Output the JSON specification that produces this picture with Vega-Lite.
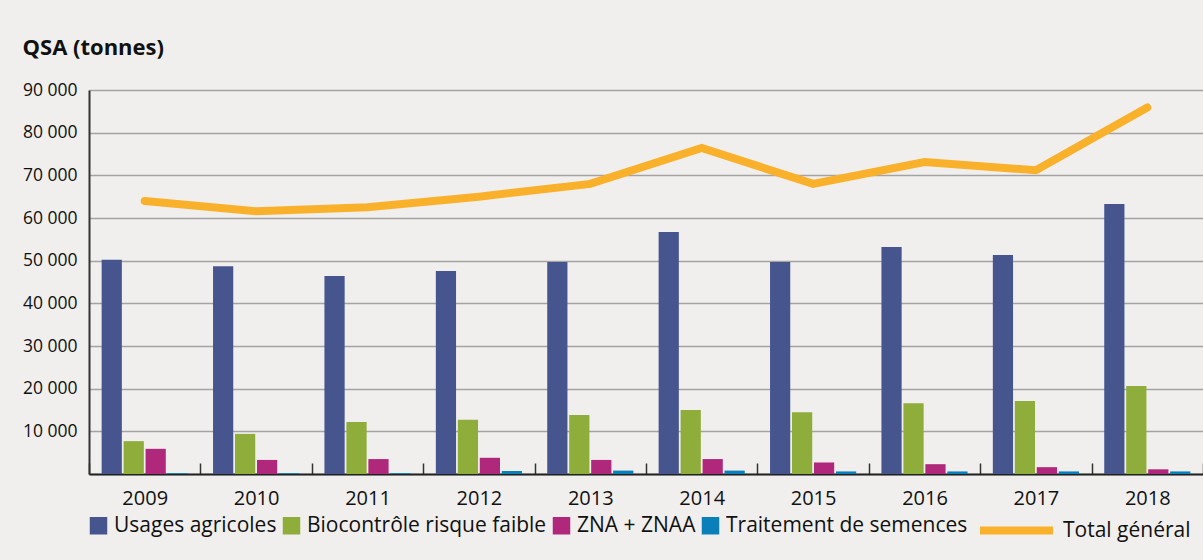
{
  "$schema": "https://vega.github.io/schema/vega-lite/v6.json",
  "width": 1114,
  "height": 384,
  "autosize": {"type": "none"},
  "padding": {"left": 89, "top": 90, "right": 0, "bottom": 86},
  "background": "#f0efed",
  "datasets": {
    "bars": [
      {"year": "2009", "series": "Usages agricoles", "value": 50200},
      {"year": "2009", "series": "Biocontrôle risque faible", "value": 7700},
      {"year": "2009", "series": "ZNA + ZNAA", "value": 5900},
      {"year": "2009", "series": "Traitement de semences", "value": 200},
      {"year": "2010", "series": "Usages agricoles", "value": 48700},
      {"year": "2010", "series": "Biocontrôle risque faible", "value": 9400},
      {"year": "2010", "series": "ZNA + ZNAA", "value": 3300},
      {"year": "2010", "series": "Traitement de semences", "value": 200},
      {"year": "2011", "series": "Usages agricoles", "value": 46400},
      {"year": "2011", "series": "Biocontrôle risque faible", "value": 12200},
      {"year": "2011", "series": "ZNA + ZNAA", "value": 3500},
      {"year": "2011", "series": "Traitement de semences", "value": 200},
      {"year": "2012", "series": "Usages agricoles", "value": 47600},
      {"year": "2012", "series": "Biocontrôle risque faible", "value": 12700},
      {"year": "2012", "series": "ZNA + ZNAA", "value": 3800},
      {"year": "2012", "series": "Traitement de semences", "value": 700},
      {"year": "2013", "series": "Usages agricoles", "value": 49700},
      {"year": "2013", "series": "Biocontrôle risque faible", "value": 13800},
      {"year": "2013", "series": "ZNA + ZNAA", "value": 3300},
      {"year": "2013", "series": "Traitement de semences", "value": 800},
      {"year": "2014", "series": "Usages agricoles", "value": 56700},
      {"year": "2014", "series": "Biocontrôle risque faible", "value": 15000},
      {"year": "2014", "series": "ZNA + ZNAA", "value": 3500},
      {"year": "2014", "series": "Traitement de semences", "value": 800},
      {"year": "2015", "series": "Usages agricoles", "value": 49700},
      {"year": "2015", "series": "Biocontrôle risque faible", "value": 14500},
      {"year": "2015", "series": "ZNA + ZNAA", "value": 2700},
      {"year": "2015", "series": "Traitement de semences", "value": 600},
      {"year": "2016", "series": "Usages agricoles", "value": 53200},
      {"year": "2016", "series": "Biocontrôle risque faible", "value": 16600},
      {"year": "2016", "series": "ZNA + ZNAA", "value": 2300},
      {"year": "2016", "series": "Traitement de semences", "value": 600},
      {"year": "2017", "series": "Usages agricoles", "value": 51300},
      {"year": "2017", "series": "Biocontrôle risque faible", "value": 17100},
      {"year": "2017", "series": "ZNA + ZNAA", "value": 1600},
      {"year": "2017", "series": "Traitement de semences", "value": 600},
      {"year": "2018", "series": "Usages agricoles", "value": 63300},
      {"year": "2018", "series": "Biocontrôle risque faible", "value": 20600},
      {"year": "2018", "series": "ZNA + ZNAA", "value": 1100},
      {"year": "2018", "series": "Traitement de semences", "value": 600}
    ],
    "total": [
      {"year": "2009", "total": 64000},
      {"year": "2010", "total": 61600},
      {"year": "2011", "total": 62500},
      {"year": "2012", "total": 65000},
      {"year": "2013", "total": 68000},
      {"year": "2014", "total": 76400},
      {"year": "2015", "total": 68000},
      {"year": "2016", "total": 73100},
      {"year": "2017", "total": 71200},
      {"year": "2018", "total": 85900}
    ]
  },
  "layer": [
    {
      "data": {"name": "bars"},
      "mark": {"type": "bar"},
      "encoding": {
        "x": {
          "field": "year",
          "type": "nominal",
          "scale": {"paddingInner": 0, "paddingOuter": 0},
          "axis": {
            "title": null,
            "labelAngle": 0,
            "labelFontSize": 20,
            "labelColor": "#111",
            "labelPadding": 25,
            "tickBand": "extent",
            "tickSize": -11,
            "tickColor": "#333",
            "tickWidth": 1.5,
            "domainColor": "#222",
            "domainWidth": 2,
            "grid": false
          }
        },
        "xOffset": {
          "field": "series",
          "type": "nominal",
          "sort": ["Usages agricoles", "Biocontrôle risque faible", "ZNA + ZNAA", "Traitement de semences"],
          "scale": {"paddingInner": 0.08, "paddingOuter": 0.575}
        },
        "y": {
          "field": "value",
          "type": "quantitative",
          "scale": {"domain": [0, 90000], "nice": false},
          "axis": {
            "values": [0, 10000, 20000, 30000, 40000, 50000, 60000, 70000, 80000, 90000],
            "format": ",d",
            "labelExpr": "datum.value === 0 ? '' : datum.label",
            "labelFontSize": 17.5,
            "labelColor": "#111",
            "labelPadding": 12,
            "ticks": false,
            "grid": true,
            "gridColor": "#a3a3a3",
            "gridWidth": 1.5,
            "domainColor": "#333",
            "domainWidth": 2,
            "title": "QSA (tonnes)",
            "titleAngle": 0,
            "titleAlign": "left",
            "titleBaseline": "middle",
            "titleX": -67,
            "titleY": -43,
            "titleFontSize": 22,
            "titleFontWeight": "bold",
            "titleColor": "#111"
          }
        },
        "fill": {
          "field": "series",
          "type": "nominal",
          "scale": {
            "domain": ["Usages agricoles", "Biocontrôle risque faible", "ZNA + ZNAA", "Traitement de semences"],
            "range": ["#47558f", "#8fad3a", "#b0287b", "#0a7fba"]
          },
          "legend": {
            "title": null,
            "orient": "none",
            "direction": "horizontal",
            "legendX": -1,
            "legendY": 425,
            "symbolType": "square",
            "symbolSize": 306,
            "symbolStrokeWidth": 0,
            "labelFontSize": 21,
            "labelColor": "#111",
            "labelOffset": 5,
            "columnPadding": 4,
            "padding": 0,
            "labelLimit": 400
          }
        }
      }
    },
    {
      "data": {"name": "total"},
      "mark": {"type": "line", "strokeWidth": 8, "strokeCap": "round", "strokeJoin": "miter"},
      "encoding": {
        "x": {"field": "year", "type": "nominal"},
        "y": {"field": "total", "type": "quantitative"},
        "stroke": {
          "datum": "Total général",
          "type": "nominal",
          "scale": {"domain": ["Total général"], "range": ["#f9b12c"]},
          "legend": {
            "title": null,
            "orient": "none",
            "legendX": 887,
            "legendY": 400,
            "symbolType": "stroke",
            "symbolSize": 5329,
            "symbolStrokeWidth": 8,
            "labelFontSize": 21,
            "labelColor": "#111",
            "labelOffset": 6,
            "padding": 0
          }
        }
      }
    }
  ],
  "config": {
    "font": "Open Sans",
    "view": {"stroke": null},
    "locale": {
      "number": {"decimal": ",", "thousands": " ", "grouping": [3], "currency": ["", " €"]}
    }
  }
}
